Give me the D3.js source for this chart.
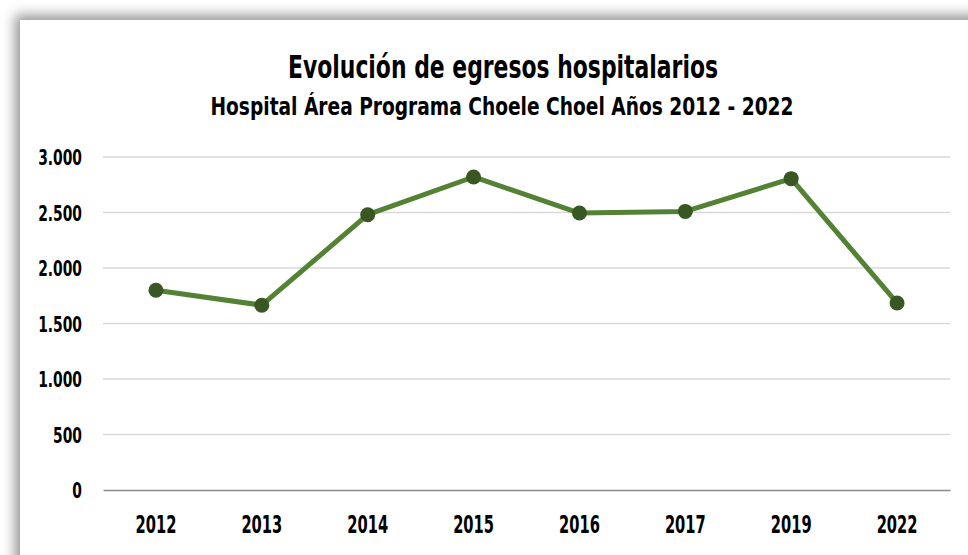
<!DOCTYPE html>
<html>
<head>
<meta charset="utf-8">
<script src="https://cdn.jsdelivr.net/npm/d3@7"></script>
<style>
  body { margin: 0; background: #fff; overflow: hidden; }
  #frame {
    position: absolute; left: 20px; top: 20px; width: 1100px; height: 700px;
    background: #fff; box-shadow: 0 0 12px 5px rgba(0,0,0,0.42);
  }
  svg { position: absolute; left: 0; top: 0; }
  text { font-family: "DejaVu Sans Condensed", "DejaVu Sans", sans-serif; fill: #000; }
</style>
</head>
<body>
<div id="frame"></div>
<svg id="chart" width="968" height="555"></svg>
<script>
const years = ['2012', '2013', '2014', '2015', '2016', '2017', '2019', '2022']
const egresos = [1800, 1665, 2480, 2820, 2495, 2510, 2805, 1685]
const yTicks = [0, 500, 1000, 1500, 2000, 2500, 3000]

const title = 'Evolución de egresos hospitalarios'
const subtitle = 'Hospital Área Programa Choele Choel Años 2012 - 2022'

const svg = d3.select('#chart')

const x = d3.scaleBand().domain(years).range([103, 950])
const y = d3.scaleLinear().domain([0, 3000]).range([490, 157])

// squeeze text horizontally, the original font is a narrow one
const condense = (sel, k) => {
  sel.each(function () {
    let w = this.getComputedTextLength()
    d3.select(this).attr('textLength', w * k).attr('lengthAdjust', 'spacingAndGlyphs')
  })
}

// gridlines
svg.append('g')
  .selectAll('line')
  .data(yTicks.filter(d => d > 0))
  .enter()
  .append('line')
  .attr('x1', 103).attr('x2', 950)
  .attr('y1', d => y(d)).attr('y2', d => y(d))
  .style('stroke', '#d9d9d9')
  .style('stroke-width', 1.5)

// y axis labels
const fmt = d3.formatLocale({decimal: ',', thousands: '.', grouping: [3], currency: ['', '']}).format(',')
const yAxis = svg.append('g')
  .attr('transform', 'translate(103,0)')
  .call(d3.axisLeft(y).tickValues(yTicks).tickFormat(fmt).tickSize(0).tickPadding(21))
yAxis.select('.domain').remove()
yAxis.selectAll('text')
  .attr('font-size', '22px')
  .attr('font-weight', 'bold')
  .attr('dy', '0.36em')
  .style('fill', '#000')
  .call(condense, 0.7)

// x axis
const xAxis = svg.append('g')
  .attr('transform', `translate(0,${y(0)})`)
  .call(d3.axisBottom(x).tickSize(0).tickPadding(26))
xAxis.select('.domain')
  .style('stroke', '#8c8c8c')
  .style('stroke-width', 1.5)
xAxis.selectAll('text')
  .attr('font-size', '24px')
  .attr('font-weight', 'bold')
  .attr('dy', '0.71em')
  .style('fill', '#000')
  .call(condense, 0.68)

// line
const line = d3.line()
  .x((d, i) => x(years[i]) + x.bandwidth() / 2)
  .y(d => y(d))

svg.append('path')
  .datum(egresos)
  .attr('d', line)
  .style('fill', 'none')
  .style('stroke', '#548235')
  .style('stroke-width', 5)
  .style('stroke-linejoin', 'round')

svg.append('g')
  .selectAll('circle')
  .data(egresos)
  .enter()
  .append('circle')
  .attr('cx', (d, i) => x(years[i]) + x.bandwidth() / 2)
  .attr('cy', d => y(d))
  .attr('r', 7.5)
  .style('fill', '#385723')

// titles
svg.append('text')
  .attr('text-anchor', 'middle')
  .attr('x', 503)
  .attr('y', 78)
  .attr('font-size', '32px')
  .attr('font-weight', 'bold')
  .text(title)
  .attr('textLength', 430)
  .attr('lengthAdjust', 'spacingAndGlyphs')

svg.append('text')
  .attr('text-anchor', 'middle')
  .attr('x', 502)
  .attr('y', 115)
  .attr('font-size', '24px')
  .attr('font-weight', 'bold')
  .text(subtitle)
  .attr('textLength', 583)
  .attr('lengthAdjust', 'spacingAndGlyphs')
</script>
</body>
</html>
